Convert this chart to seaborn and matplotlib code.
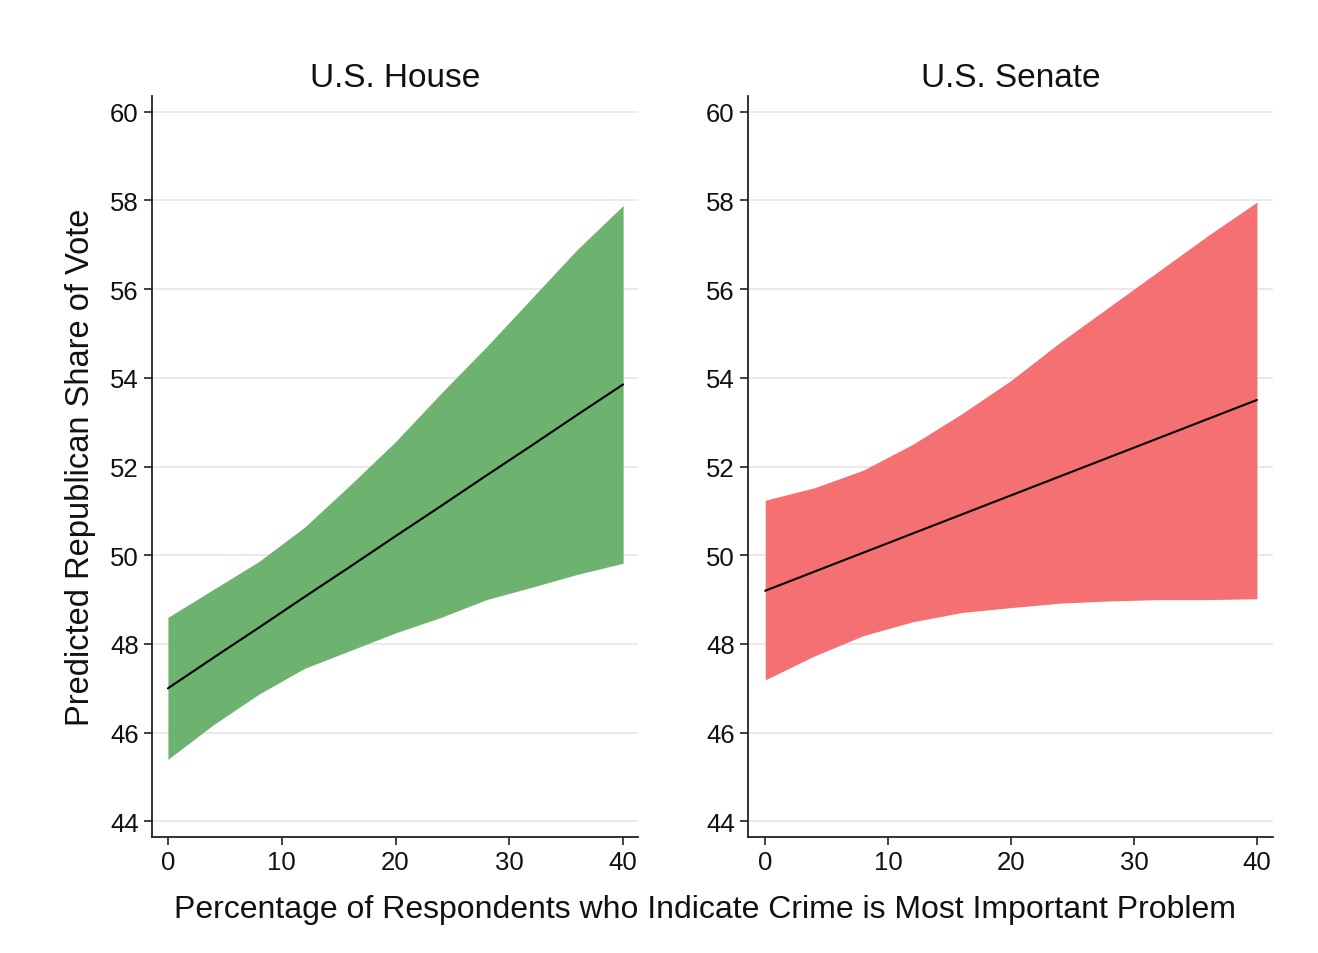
import numpy as np
import pandas as pd
import matplotlib
matplotlib.use("Agg")
import matplotlib.pyplot as plt
import seaborn as sns

# x grid (percentage of respondents naming crime)
crime_pct = [0, 4, 8, 12, 16, 20, 24, 28, 32, 36, 40]

# U.S. House: predicted vote share and confidence band
house_pred = [47.0, 47.69, 48.37, 49.06, 49.74, 50.43, 51.11, 51.80, 52.48, 53.17, 53.85]
house_lo = [45.4, 46.18, 46.87, 47.45, 47.85, 48.25, 48.6, 49.0, 49.28, 49.57, 49.82]
house_hi = [48.6, 49.23, 49.86, 50.63, 51.58, 52.56, 53.65, 54.7, 55.8, 56.9, 57.88]

# U.S. Senate
senate_pred = [49.2, 49.63, 50.06, 50.49, 50.92, 51.35, 51.78, 52.21, 52.64, 53.07, 53.5]
senate_lo = [47.19, 47.73, 48.19, 48.5, 48.71, 48.82, 48.92, 48.97, 49.0, 49.0, 49.02]
senate_hi = [51.24, 51.52, 51.92, 52.5, 53.19, 53.94, 54.8, 55.6, 56.4, 57.2, 57.96]

panels = [
    ("U.S. House", house_pred, house_lo, house_hi, "#6db36f"),
    ("U.S. Senate", senate_pred, senate_lo, senate_hi, "#f57073"),
]

sns.set_style("white")
plt.rcParams['font.family'] = ['Liberation Sans', 'DejaVu Sans']
plt.rcParams['text.color'] = '#111111'
plt.rcParams['xtick.color'] = '#111111'
plt.rcParams['ytick.color'] = '#111111'
plt.rcParams['axes.labelcolor'] = '#111111'

fig = plt.figure(figsize=(13.18, 9.54), dpi=100)
ax_left = fig.add_axes([0.1153, 0.1216, 0.3687, 0.7767])
ax_right = fig.add_axes([0.5675, 0.1216, 0.3983, 0.7767])

for ax, (title, pred, lo, hi, col) in zip([ax_left, ax_right], panels):
    df = pd.DataFrame({'x': crime_pct, 'pred': pred, 'lo': lo, 'hi': hi})
    ax.fill_between(df['x'], df['lo'], df['hi'], color=col, linewidth=0, zorder=2)
    sns.lineplot(data=df, x='x', y='pred', ax=ax, color='black', linewidth=1.5, zorder=3)
    ax.set_xlim(-1.4, 41.3)
    ax.set_ylim(43.65, 60.35)
    ax.set_xticks([0, 10, 20, 30, 40])
    ax.set_yticks(np.arange(44, 61, 2))
    ax.yaxis.grid(True, color='#e6e6e6', linewidth=1.2, zorder=0)
    ax.set_axisbelow(True)
    for s in ['top', 'right']:
        ax.spines[s].set_visible(False)
    for s in ['left', 'bottom']:
        ax.spines[s].set_color('#222222')
        ax.spines[s].set_linewidth(1.3)
    ax.tick_params(axis='both', which='both', direction='out', length=6, width=1.2,
                   color='#222222', labelsize=18.5, left=True, bottom=True)
    ax.set_title(title, fontsize=24, pad=7)
    ax.set_xlabel('')
    ax.set_ylabel('')

ax_left.set_ylabel('Predicted Republican Share of Vote', fontsize=23.5, labelpad=10)
fig.text(0.535, 0.046, 'Percentage of Respondents who Indicate Crime is Most Important Problem',
         ha='center', va='center', fontsize=23)

fig.savefig('out.png', dpi=100, facecolor='white')
